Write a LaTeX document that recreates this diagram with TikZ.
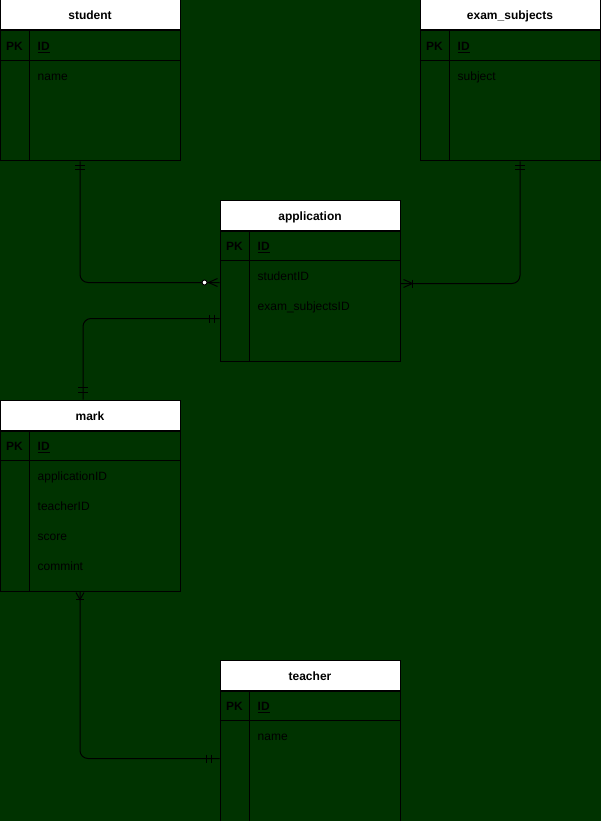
\documentclass[tikz,border=0pt]{standalone}
\usepackage{fontspec}
\setmainfont{Liberation Sans}
\definecolor{bggreen}{RGB}{0,51,0}
\tikzset{
  tablehead/.style={draw=black, fill=white, line width=1pt, minimum width=180, minimum height=30, inner sep=0pt, text height=10, text depth=0, font=\bfseries\fontsize{12}{14}\selectfont},
  tablebody/.style={draw=black, line width=1pt, minimum width=180, inner sep=0pt, anchor=north},
  field/.style={anchor=base west, inner sep=0pt, font=\fontsize{12}{14}\selectfont},
  keyfield/.style={anchor=base, inner sep=0pt, font=\bfseries\fontsize{12}{14}\selectfont},
  divider/.style={draw=black, line width=1pt},
  relation/.style={draw=black, line width=1pt, rounded corners=8},
  marker/.style={draw=black, line width=1pt},
}
\begin{document}
\begin{tikzpicture}[x=1pt,y=-1pt]
%Background
\fill[bggreen] (0,0) rectangle (601,821);
\useasboundingbox (0,0) rectangle (601,821);

%Table: student
\node[tablehead] (student) at (90,15) {student};
\node[tablebody, minimum height=130] (student-body) at (student.south) {};
\draw[divider] ([xshift=30]student-body.north west) -- ([xshift=30]student-body.south west);
\draw[divider] ([yshift=-30]student-body.north west) -- ([yshift=-30]student-body.north east);
\node[keyfield] (student-pk) at ([shift={(15,20)}]student-body.north west) {PK};
\node[keyfield, anchor=base west] (student-id) at ([shift={(38,20)}]student-body.north west) {\underline{ID}};
\node[field] (student-name) at ([shift={(38,50)}]student-body.north west) {name};

%Table: exam_subjects
\node[tablehead] (exam) at (510,15) {exam\_subjects};
\node[tablebody, minimum height=130] (exam-body) at (exam.south) {};
\draw[divider] ([xshift=30]exam-body.north west) -- ([xshift=30]exam-body.south west);
\draw[divider] ([yshift=-30]exam-body.north west) -- ([yshift=-30]exam-body.north east);
\node[keyfield] (exam-pk) at ([shift={(15,20)}]exam-body.north west) {PK};
\node[keyfield, anchor=base west] (exam-id) at ([shift={(38,20)}]exam-body.north west) {\underline{ID}};
\node[field] (exam-subject) at ([shift={(38,50)}]exam-body.north west) {subject};

%Table: application
\node[tablehead] (application) at (310,215) {application};
\node[tablebody, minimum height=130] (application-body) at (application.south) {};
\draw[divider] ([xshift=30]application-body.north west) -- ([xshift=30]application-body.south west);
\draw[divider] ([yshift=-30]application-body.north west) -- ([yshift=-30]application-body.north east);
\node[keyfield] (application-pk) at ([shift={(15,20)}]application-body.north west) {PK};
\node[keyfield, anchor=base west] (application-id) at ([shift={(38,20)}]application-body.north west) {\underline{ID}};
\node[field] (application-student) at ([shift={(38,50)}]application-body.north west) {studentID};
\node[field] (application-exam) at ([shift={(38,80)}]application-body.north west) {exam\_subjectsID};

%Table: mark
\node[tablehead] (mark) at (90,415) {mark};
\node[tablebody, minimum height=160] (mark-body) at (mark.south) {};
\draw[divider] ([xshift=30]mark-body.north west) -- ([xshift=30]mark-body.south west);
\draw[divider] ([yshift=-30]mark-body.north west) -- ([yshift=-30]mark-body.north east);
\node[keyfield] (mark-pk) at ([shift={(15,20)}]mark-body.north west) {PK};
\node[keyfield, anchor=base west] (mark-id) at ([shift={(38,20)}]mark-body.north west) {\underline{ID}};
\foreach \fname [count=\i] in {applicationID,teacherID,score,commint}
  \node[field] (mark-f\i) at ([shift={(38,{20+30*\i})}]mark-body.north west) {\fname};

%Table: teacher
\node[tablehead] (teacher) at (310,675) {teacher};
\node[tablebody, minimum height=130] (teacher-body) at (teacher.south) {};
\draw[divider] ([xshift=30]teacher-body.north west) -- ([xshift=30]teacher-body.south west);
\draw[divider] ([yshift=-30]teacher-body.north west) -- ([yshift=-30]teacher-body.north east);
\node[keyfield] (teacher-pk) at ([shift={(15,20)}]teacher-body.north west) {PK};
\node[keyfield, anchor=base west] (teacher-id) at ([shift={(38,20)}]teacher-body.north west) {\underline{ID}};
\node[field] (teacher-name) at ([shift={(38,50)}]teacher-body.north west) {name};

%Relation: student -- application (one to zero or many)
\coordinate (stu-out) at ([xshift=-10]student-body.south);
\coordinate (app-in1) at ([yshift=-52]application-body.north west);
\draw[relation] (stu-out) |- (app-in1);
\draw[marker] ([shift={(-5,4)}]stu-out) -- ++(10,0);
\draw[marker] ([shift={(-5,8)}]stu-out) -- ++(10,0);
\draw[marker] ([shift={(-2,-4)}]app-in1) -- ([xshift=-11]app-in1) -- ([shift={(-2,4)}]app-in1);
\draw[marker, fill=white] ([xshift=-15]app-in1) circle (2.5);

%Relation: exam_subjects -- application (one to one or many)
\coordinate (exam-out) at ([xshift=10]exam-body.south);
\coordinate (app-in2) at ([yshift=-53]application-body.north east);
\draw[relation] (exam-out) |- (app-in2);
\draw[marker] ([shift={(-5,4)}]exam-out) -- ++(10,0);
\draw[marker] ([shift={(-5,8)}]exam-out) -- ++(10,0);
\draw[marker] ([shift={(3,-4)}]app-in2) -- ([xshift=12]app-in2) -- ([shift={(3,4)}]app-in2);
\draw[marker] ([shift={(12,-4)}]app-in2) -- ++(0,8);

%Relation: application -- mark (one to one)
\coordinate (app-out) at ([yshift=-88]application-body.north west);
\coordinate (mark-in) at ([xshift=-7]mark.north);
\draw[relation] (app-out) -| (mark-in);
\draw[marker] ([shift={(-10,-4)}]app-out) -- ++(0,8);
\draw[marker] ([shift={(-5,-4)}]app-out) -- ++(0,8);
\draw[marker] ([shift={(-5,-12)}]mark-in) -- ++(10,0);
\draw[marker] ([shift={(-5,-7)}]mark-in) -- ++(10,0);

%Relation: mark -- teacher (one or many to one)
\coordinate (mark-out) at ([xshift=-10]mark-body.south);
\coordinate (tea-in) at ([yshift=-68]teacher-body.north west);
\draw[relation] (mark-out) |- (tea-in);
\draw[marker] ([shift={(-4,1)}]mark-out) -- ([yshift=-8]mark-out) -- ([shift={(4,1)}]mark-out);
\draw[marker] ([shift={(-4,8)}]mark-out) -- ++(8,0);
\draw[marker] ([shift={(-13,-4)}]tea-in) -- ++(0,8);
\draw[marker] ([shift={(-8,-4)}]tea-in) -- ++(0,8);
\end{tikzpicture}
\end{document}
